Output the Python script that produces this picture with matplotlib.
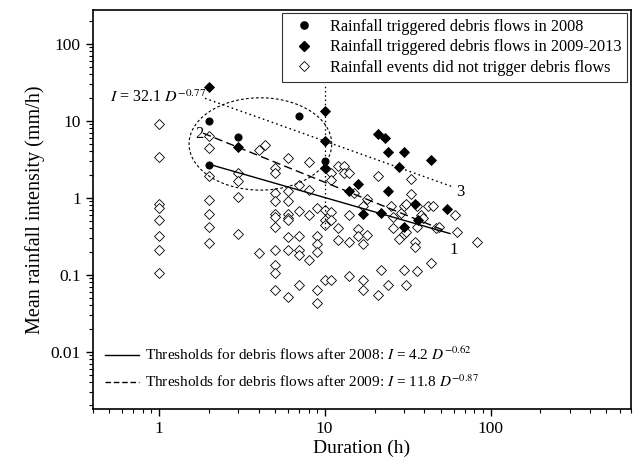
import numpy as np
import matplotlib
matplotlib.use('Agg')
import matplotlib.pyplot as plt
from matplotlib.lines import Line2D

plt.rcParams['font.family'] = ['Liberation Serif', 'DejaVu Serif']
plt.rcParams['mathtext.fontset'] = 'stix'

# rainfall events that triggered debris flows in 2008
d2008 = [2, 2, 3, 7, 10]
i2008 = [9.8, 2.7, 6.1, 11.5, 3.0]

# rainfall events that triggered debris flows in 2009-2013
d0913 = [2, 3, 10, 10, 10, 14, 16, 17, 21, 22, 23, 24, 24, 28, 30, 30, 35, 36.6, 44, 55]
i0913 = [27.5, 4.5, 13.5, 5.5, 2.4, 1.24, 1.51, 0.61, 6.7, 0.63, 6.0, 3.9, 1.24, 2.5, 3.9, 0.42, 0.82, 0.51, 3.1, 0.71]

# rainfall events that did not trigger debris flows
dnone = ([1] * 8 + [2] * 7 + [3] * 4 + [4] * 2 + [4.4] + [5] * 11 + [6] * 9 + [7] * 6 + [8] * 4 + [9] * 6
         + [10] * 4 + [11] * 5 + [12] * 3 + [13] * 2 + [14] * 4 + [15] + [16] * 2 + [17] * 4 + [18] * 2
         + [21] * 2 + [22, 24, 25] + [26] * 2 + [28, 29] + [30] * 3 + [31] * 3 + [33] * 2 + [35] * 2
         + [36] * 3 + [38, 39, 42, 44, 45, 47, 49, 61, 63, 83])
inone = [9.1, 3.4, 0.83, 0.73, 0.52, 0.32, 0.21, 0.105,
         6.3, 4.4, 1.9, 0.94, 0.61, 0.42, 0.26,
         2.1, 1.67, 1.03, 0.34,
         4.2, 0.19,
         4.8,
         2.4, 2.1, 1.14, 0.92, 0.61, 0.57, 0.42, 0.21, 0.133, 0.105, 0.064,
         3.3, 1.22, 0.92, 0.61, 0.55, 0.51, 0.31, 0.21, 0.052,
         1.48, 0.67, 0.32, 0.21, 0.18, 0.074,
         2.9, 1.26, 0.60, 0.156,
         0.73, 0.32, 0.25, 0.20, 0.063, 0.043,
         0.69, 0.51, 0.44, 0.086,
         2.1, 1.7, 0.66, 0.51, 0.085,
         2.6, 0.40, 0.28,
         2.6, 2.1,
         2.1, 0.60, 0.27, 0.096,
         1.16,
         0.39, 0.32,
         0.78, 0.25, 0.085, 0.064,
         0.95, 0.33,
         1.9, 0.054,
         0.116, 0.074, 0.78,
         0.57, 0.41,
         0.29, 0.63,
         0.78, 0.34, 0.116,
         0.82, 0.36, 0.074,
         1.74, 1.11,
         0.27, 0.23,
         0.78, 0.42, 0.112,
         0.60, 0.54, 0.77, 0.14, 0.77, 0.40, 0.42, 0.60, 0.36, 0.27]

# threshold curves I = a * D^b
thr_a = [4.2, 11.8, 32.1]
thr_b = [-0.62, -0.87, -0.77]
thr_range = [(2, 57), (1.85, 52), (1.9, 60)]

fig = plt.figure(figsize=(6.36, 4.63), dpi=100)
ax = fig.add_axes([92.7 / 636, 54 / 463, 538 / 636, 399 / 463])

ax.plot(dnone, inone, ls='none', marker='D', ms=4.6, mfc='white', mec='black', mew=0.6)
ax.plot(d0913, i0913, ls='none', marker='D', ms=4.6, mfc='black', mec='black', mew=0.6)
ax.plot(d2008, i2008, ls='none', marker='o', ms=5.2, mfc='black', mec='black', mew=0.6)

styles = ['-', (0, (6, 3)), (0, (1.2, 2.2))]
for a, b, (d0, d1), st in zip(thr_a, thr_b, thr_range, styles):
    dd = np.logspace(np.log10(d0), np.log10(d1), 50)
    ax.plot(dd, a * dd ** b, color='black', lw=1.0, ls=st)

# vertical dotted line at 10 h
ax.plot([10, 10], [0.4, 30], color='black', lw=0.9, ls=(0, (1.2, 2.2)))

# dashed ellipse (drawn in log space)
ell_cx, ell_cy, ell_rx, ell_ry = np.log10(4.1), np.log10(5.0), 0.43, 0.6
t = np.linspace(0, 2 * np.pi, 200)
ax.plot(10 ** (ell_cx + ell_rx * np.cos(t)), 10 ** (ell_cy + ell_ry * np.sin(t)),
        color='black', lw=0.8, ls=(0, (2.5, 2)))

ax.text(1.85, 6.8, '2', fontsize=12, ha='right', va='center')
ax.text(60, 0.21, '1', fontsize=12, ha='center', va='center')
ax.text(66, 1.2, '3', fontsize=12, ha='center', va='center')
ax.text(0.51, 20, r'$I$ = 32.1 $D^{-0.77}$', fontsize=11.5, ha='left', va='center')

ax.set_xscale('log')
ax.set_yscale('log')
ax.set_xlim(0.4, 700)
ax.set_ylim(0.0018, 275)
ax.set_xticks([1, 10, 100])
ax.set_xticklabels(['1', '10', '100'])
ax.set_yticks([0.01, 0.1, 1, 10, 100])
ax.set_yticklabels(['0.01', '0.1', '1', '10', '100'])
ax.tick_params(which='major', direction='out', length=5, width=1, labelsize=12.5, top=False, right=False)
ax.tick_params(which='minor', direction='out', length=3, width=0.8, top=False, right=False)
for sp in ax.spines.values():
    sp.set_linewidth(1.2)

ax.set_xlabel('Duration (h)', fontsize=14, labelpad=2)
ax.set_ylabel('Mean rainfall intensity (mm/h)', fontsize=14.5)

h1 = [Line2D([], [], ls='none', marker='o', ms=5.2, mfc='black', mec='black'),
      Line2D([], [], ls='none', marker='D', ms=4.6, mfc='black', mec='black'),
      Line2D([], [], ls='none', marker='D', ms=4.6, mfc='white', mec='black', mew=0.6)]
leg1 = ax.legend(h1, ['Rainfall triggered debris flows in 2008',
                      'Rainfall triggered debris flows in 2009-2013',
                      'Rainfall events did not trigger debris flows'],
                 loc='upper right', fontsize=11.7, frameon=True, fancybox=False,
                 edgecolor='black', borderaxespad=0.2, handletextpad=0.6,
                 labelspacing=0.28, borderpad=0.35)
leg1.get_frame().set_linewidth(0.8)
ax.add_artist(leg1)

h2 = [Line2D([], [], color='black', lw=1.0, ls='-'),
      Line2D([], [], color='black', lw=1.0, ls=(0, (4, 2)))]
ax.legend(h2, [r'Thresholds for debris flows after 2008: $I$ = 4.2 $D^{-0.62}$',
               r'Thresholds for debris flows after 2009: $I$ = 11.8 $D^{-0.87}$'],
          loc='lower left', bbox_to_anchor=(0.003, 0.02), fontsize=11, frameon=False,
          handlelength=2.2, handletextpad=0.4, labelspacing=0.7, borderaxespad=0.3)

fig.savefig('out.png', dpi=100)
